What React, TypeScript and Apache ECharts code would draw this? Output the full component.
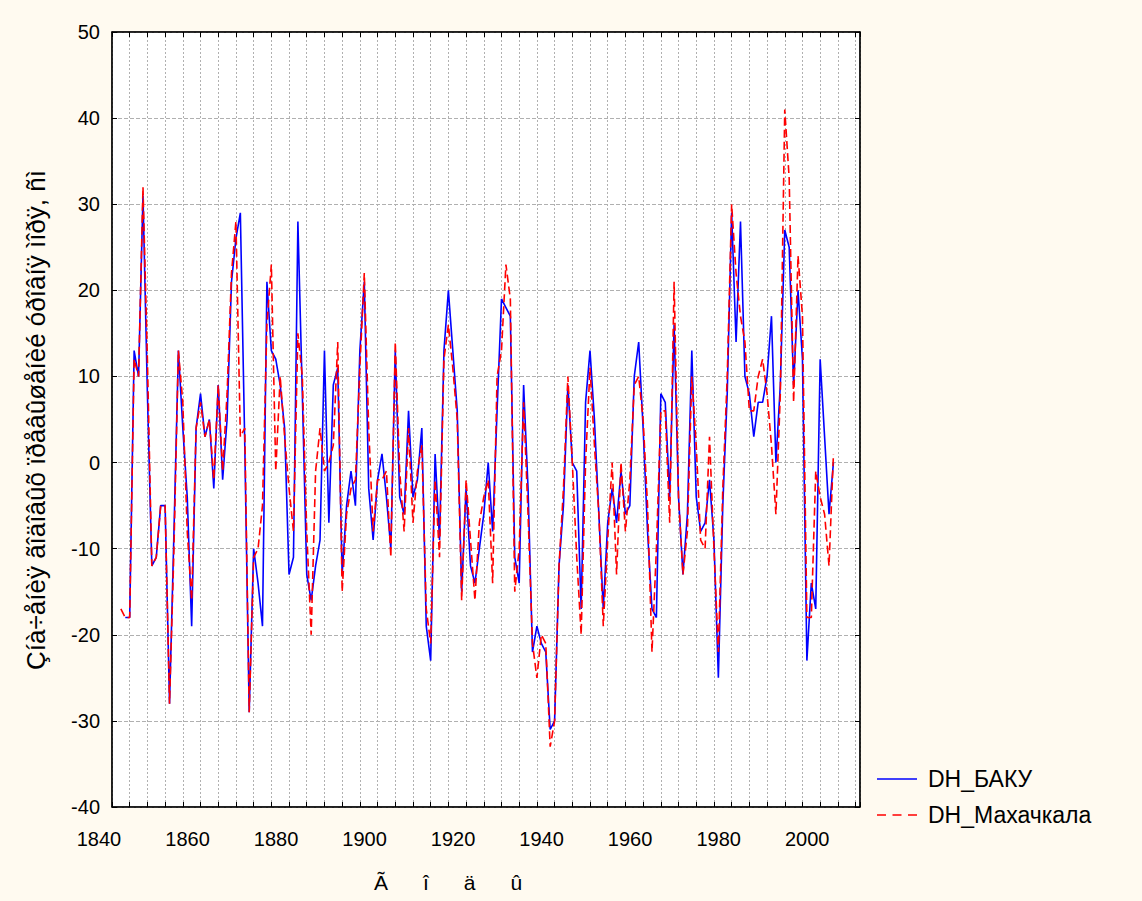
import React, { useEffect, useRef } from "react";
import * as echarts from "echarts";

const firstYear = 1842;

// DH_БАКУ (first year missing)
const bakuValues: (number | null)[] = [
  null, -18, -18, 13, 10, 31, 8, -12, -11, -5,
  -5, -28, -8, 13, 4, -4, -19, 4, 8, 3,
  5, -3, 9, -2, 5, 21, 26, 29, 2, -29,
  -10, -14, -19, 21, 13, 12, 9, 4, -13, -11,
  28, 8, -13, -16, -12, -9, 13, -7, 9, 11,
  -13, -5, -1, -5, 13, 21, -3, -9, -2, 1,
  -4, -10, 13, -4, -6, 6, -4, -2, 4, -19,
  -23, 1, -9, 13, 20, 13, 6, -15, -3, -12,
  -14, -10, -6, 0, -8, 6, 19, 18, 17, -11,
  -14, 9, -3, -22, -19, -21, -22, -31, -30, -12,
  -5, 9, 0, -1, -17, 7, 13, 5, -6, -17,
  -7, -3, -7, -1, -6, -5, 10, 14, 4, -8,
  -17, -18, 8, 7, -4, 16, -4, -13, -6, 13,
  -4, -8, -7, -2, -9, -25, -5, 8, 29, 14,
  28, 10, 8, 3, 7, 7, 10, 17, 0, 9,
  27, 25, 9, 20, 12, -23, -14, -17, 12, 3,
  -6, 0,
];

// DH_Махачкала
const makhachkalaValues: (number | null)[] = [
  -17, -18, -18, 12, 10, 32, 12, -12, -11, -5,
  -5, -28, -10, 13, 7, -8, -16, 4, 7, 3,
  5, -2, 9, -1, 8, 22, 28, 3, 4, -29,
  -11, -10, -5, 16, 23, -1, 10, 3, -3, -8,
  15, 10, -8, -20, -1, 4, -1, 0, 2, 14,
  -15, -6, -3, -2, 11, 22, 4, -8, -2, -2,
  -1, -11, 14, -1, -8, 4, -7, -1, 2, -17,
  -21, -2, -11, 12, 16, 11, 5, -16, -2, -9,
  -16, -7, -4, -2, -14, 10, 13, 23, 19, -15,
  -10, 7, -6, -21, -25, -20, -21, -33, -30, -12,
  -3, 10, 0, -11, -20, 0, 11, 2, -6, -19,
  -9, 0, -13, 0, -8, -2, 9, 10, 5, -5,
  -22, -10, 6, 6, -7, 21, -4, -13, -8, 10,
  2, -9, -10, 3, -10, -22, -3, 10, 30, 22,
  17, 14, 6, 6, 10, 12, 8, 2, -6, 8,
  41, 33, 7, 24, 17, -18, -18, -1, -4, -6,
  -12, 1,
];

const xTickLabels = [1840, 1860, 1880, 1900, 1920, 1940, 1960, 1980, 2000];
const seriesNames = ["DH_БАКУ", "DH_Махачкала"];
const seriesColors = ["#0000ff", "#ff0000"];
const yTitle = "Çíà÷åíèÿ ãîäîâûõ ïðåâûøåíèé óðîâíÿ ìîðÿ, ñì";
const xTitle = "Ã      î      ä      û";

const FONT = "'Liberation Sans', Arial, sans-serif";

export default function App() {
  const ref = useRef<HTMLDivElement>(null);

  useEffect(() => {
    if (!ref.current) return;
    const chart = echarts.init(ref.current, null, { renderer: "svg" });

    const toPairs = (vals: (number | null)[]) =>
      vals.map((v, i) => [firstYear + i, v]);

    const gridLeft = 112;
    const gridTop = 32;
    const gridW = 748;
    const gridH = 775;

    const frameLine = { show: true, onZero: false, lineStyle: { color: "#000", width: 1.5 } };
    const tickIn = { show: true, inside: true, length: 5, lineStyle: { color: "#000", width: 1 } };

    const legendX = 877;
    const legendY = [779, 815];

    chart.setOption({
      animation: false,
      backgroundColor: "#fffaf0",
      textStyle: { fontFamily: FONT },
      grid: {
        left: gridLeft,
        top: gridTop,
        width: gridW,
        height: gridH,
        show: true,
        backgroundColor: "#ffffff",
        borderColor: "#000",
        borderWidth: 1,
      },
      xAxis: [
        {
          type: "value",
          position: "bottom",
          min: 1840,
          max: 2009,
          interval: 4,
          axisLine: frameLine,
          axisTick: tickIn,
          axisLabel: {
            customValues: xTickLabels,
            formatter: (v: number) => String(v),
            fontSize: 20,
            color: "#000",
            margin: 22,
            padding: [0, 26, 0, 0],
            fontFamily: FONT,
          },
          splitLine: {
            show: true,
            lineStyle: { color: "#b0b0b0", width: 1, type: [2, 2] },
          },
        },
        {
          type: "value",
          position: "top",
          min: 1840,
          max: 2009,
          interval: 4,
          axisLine: frameLine,
          axisTick: tickIn,
          axisLabel: { show: false },
          splitLine: { show: false },
        },
      ],
      yAxis: [
        {
          type: "value",
          position: "left",
          min: -40,
          max: 50,
          interval: 10,
          axisLine: frameLine,
          axisTick: tickIn,
          axisLabel: { fontSize: 20, color: "#000", margin: 12, fontFamily: FONT },
          splitLine: {
            show: true,
            lineStyle: { color: "#b0b0b0", width: 1, type: [4, 2] },
          },
        },
        {
          type: "value",
          position: "right",
          min: -40,
          max: 50,
          interval: 10,
          axisLine: frameLine,
          axisTick: tickIn,
          axisLabel: { show: false },
          splitLine: { show: false },
        },
      ],
      series: [
        {
          name: seriesNames[0],
          type: "line",
          data: toPairs(bakuValues),
          symbol: "none",
          showSymbol: false,
          connectNulls: false,
          lineStyle: { color: seriesColors[0], width: 1.6 },
          itemStyle: { color: seriesColors[0] },
          z: 3,
        },
        {
          name: seriesNames[1],
          type: "line",
          data: toPairs(makhachkalaValues),
          symbol: "none",
          showSymbol: false,
          connectNulls: false,
          lineStyle: { color: seriesColors[1], width: 1.6, type: [8, 4] },
          itemStyle: { color: seriesColors[1] },
          z: 4,
        },
      ],
      graphic: [
        {
          type: "text",
          x: 36,
          y: 420,
          rotation: Math.PI / 2,
          style: {
            text: yTitle,
            fontSize: 26,
            fontFamily: FONT,
            fill: "#000",
            align: "center",
            verticalAlign: "middle",
          },
        },
        {
          type: "text",
          x: 448,
          y: 882,
          style: {
            text: xTitle,
            fontSize: 21,
            fontFamily: FONT,
            fill: "#000",
            align: "center",
            verticalAlign: "middle",
          },
        },
        {
          type: "line",
          shape: { x1: legendX, y1: legendY[0], x2: legendX + 40, y2: legendY[0] },
          style: { stroke: seriesColors[0], lineWidth: 1.6 },
        },
        {
          type: "line",
          shape: { x1: legendX, y1: legendY[1], x2: legendX + 40, y2: legendY[1] },
          style: { stroke: seriesColors[1], lineWidth: 1.6, lineDash: [9, 6.5] },
        },
        {
          type: "text",
          x: 928,
          y: legendY[0],
          style: {
            text: seriesNames[0],
            fontSize: 23,
            fontFamily: FONT,
            fill: "#000",
            align: "left",
            verticalAlign: "middle",
          },
        },
        {
          type: "text",
          x: 928,
          y: legendY[1],
          style: {
            text: seriesNames[1],
            fontSize: 23,
            fontFamily: FONT,
            fill: "#000",
            align: "left",
            verticalAlign: "middle",
          },
        },
      ],
    });

    return () => chart.dispose();
  }, []);

  return (
    <div
      ref={ref}
      style={{ position: "fixed", left: 0, top: 0, width: 1142, height: 901 }}
    />
  );
}
